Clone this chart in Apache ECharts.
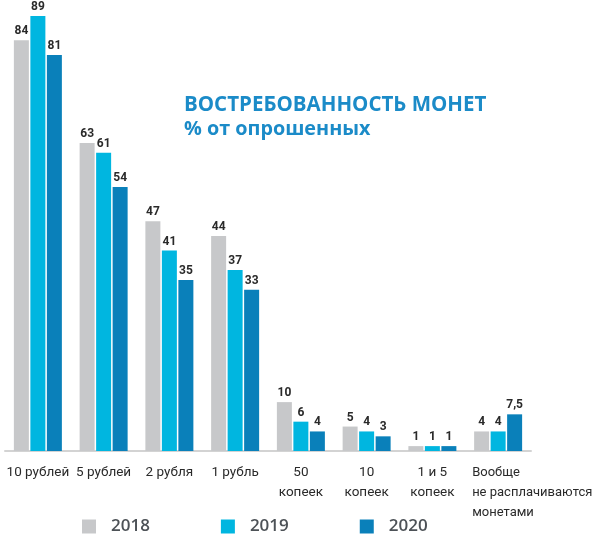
<!DOCTYPE html>
<html>
<head>
<meta charset="utf-8">
<script src="https://cdn.jsdelivr.net/npm/echarts@6/dist/echarts.min.js"></script>
<style>
  html, body { margin: 0; padding: 0; background: #fff; }
  #chart { width: 593px; height: 535px; }
</style>
</head>
<body>
<div id="chart"></div>
<script>
  // categories and values, % of respondents
  var categories = ['10 рублей', '5 рублей', '2 рубля', '1 рубль', '50\nкопеек', '10\nкопеек', '1 и 5\nкопеек', 'Вообще\nне расплачиваются\nмонетами'];
  var years = ['2018', '2019', '2020'];
  var data2018 = [84, 63, 47, 44, 10, 5, 1, 4];
  var data2019 = [89, 61, 41, 37, 6, 4, 1, 4];
  var data2020 = [81, 54, 35, 33, 4, 3, 1, 7.5];
  var colors = ['#c7c8ca', '#00b6e0', '#0a80ba'];

  var myChart = echarts.init(document.getElementById('chart'));

  var labelFont = 'Roboto, sans-serif';

  function makeSeries(name, values, i) {
    return {
      name: name,
      type: 'bar',
      barWidth: 15,
      barGap: '10%',
      itemStyle: { color: colors[i] },
      label: {
        show: true,
        position: 'top',
        distance: 3,
        color: '#2a2a2a',
        fontFamily: labelFont,
        fontWeight: 'bold',
        fontSize: 12,
        formatter: function (p) {
          return String(p.value).replace('.', ',');
        }
      },
      data: values
    };
  }

  var option = {
    animation: false,
    title: {
      text: 'ВОСТРЕБОВАННОСТЬ МОНЕТ',
      subtext: '% от опрошенных',
      left: 184,
      top: 95,
      itemGap: 3,
      padding: 0,
      textStyle: {
        color: '#1b8bc8',
        fontFamily: '"Open Sans", sans-serif',
        fontWeight: 'bold',
        fontSize: 20.5
      },
      subtextStyle: {
        color: '#1b8bc8',
        fontFamily: '"Open Sans", sans-serif',
        fontWeight: 'bold',
        fontSize: 19.8
      }
    },
    legend: {
      data: years,
      left: 82,
      top: 518,
      padding: 0,
      itemWidth: 14,
      itemHeight: 14,
      itemGap: 71,
      icon: 'rect',
      textStyle: {
        color: '#4d5257',
        fontFamily: '"Open Sans", sans-serif',
        fontWeight: 600,
        fontSize: 17,
        padding: [0, 0, 0, 10]
      }
    },
    grid: {
      left: 5,
      right: 62,
      top: 11,
      bottom: 84,
      containLabel: false,
      outerBoundsMode: 'none'
    },
    xAxis: {
      type: 'category',
      data: categories,
      axisLine: { lineStyle: { color: '#d3d3d3', width: 2 } },
      axisTick: { show: false },
      axisLabel: {
        interval: 0,
        margin: 12,
        color: '#2a2a2a',
        fontFamily: labelFont,
        fontSize: 13.5,
        lineHeight: 20,
        formatter: function (value, idx) {
          if (idx === categories.length - 1) {
            return value.split('\n').map(function (s) { return '{l|' + s + '}'; }).join('\n');
          }
          return value;
        },
        rich: {
          l: {
            width: 52,
            align: 'left',
            color: '#2a2a2a',
            fontFamily: labelFont,
            fontSize: 13,
            lineHeight: 20
          }
        }
      }
    },
    yAxis: {
      type: 'value',
      min: 0,
      max: 90,
      show: false
    },
    series: [
      makeSeries(years[0], data2018, 0),
      makeSeries(years[1], data2019, 1),
      makeSeries(years[2], data2020, 2)
    ]
  };

  myChart.setOption(option);
</script>
</body>
</html>
